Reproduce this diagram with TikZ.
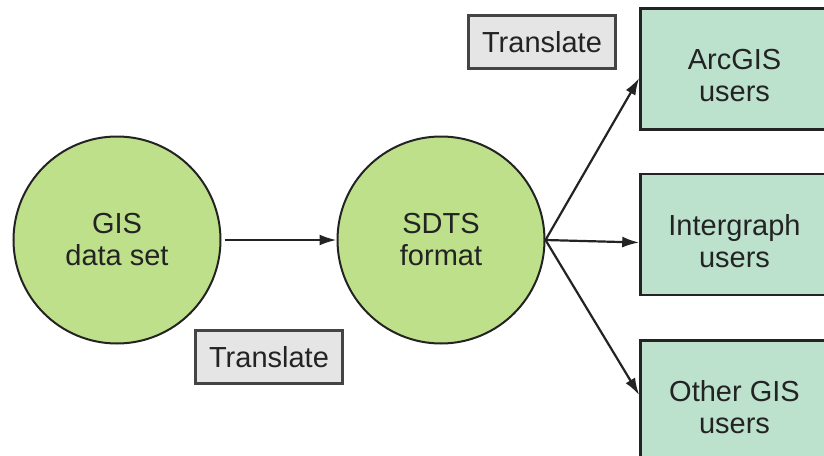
\documentclass[tikz,border=0pt]{standalone}
\usepackage{fontspec}
\setmainfont{Liberation Sans}
\usetikzlibrary{arrows.meta,positioning,shapes.geometric}
\definecolor{datagreen}{RGB}{190,224,139}
\definecolor{usergreen}{RGB}{188,226,206}
\definecolor{labelgray}{RGB}{229,229,229}
\definecolor{inkgray}{RGB}{35,35,35}
% pushes the box text a little down
\newcommand{\usersgap}{\rule{0pt}{34pt}}

\begin{document}
\begin{tikzpicture}
[x=1pt, y=-1pt, font=\fontsize{29}{32}\selectfont, text=inkgray,
% STYLES
% The data style is used to draw the data sets
data/.style={circle, draw=inkgray, line width=2pt, fill=datagreen, minimum size=207pt, inner sep=0pt, align=center},
% The users style is used to draw the receiving systems
users/.style={rectangle, draw=inkgray, line width=2.6pt, fill=usergreen, minimum width=188pt, minimum height=121pt, align=center},
% The translate style is used to draw the step labels
translate/.style={rectangle, draw=inkgray!85, line width=2.2pt, fill=labelgray, minimum width=147pt, minimum height=53pt, inner sep=0pt},
link/.style={-{Latex[length=17pt,width=11pt]}, draw=inkgray, line width=2.2pt}]
\useasboundingbox (0,0) rectangle (824,455);
% Draw data sets
\node [data] (gis) at (117,240) {GIS\\data set};
\node [data, right=115pt of gis] (sdts) {SDTS\\format};
% Draw users
\node [users] (arcgis) at (734.5,69) {\usersgap ArcGIS\\users};
\node [users] (intergraph) at (734.5,234.5) {\usersgap Intergraph\\users};
\node [users] (othergis) at (734.5,401) {\usersgap Other GIS\\users};
% Translate labels
\node [translate] (translate-low) at (269,357) {Translate};
\node [translate] (translate-high) at (542,42) {Translate};
% Draw the links
\draw [link, shorten <=3pt] (gis) -- (sdts);
\draw [link] (sdts.east) -- ([yshift=-9pt]arcgis.west);
\draw [link] (sdts.east) -- ([yshift=-8pt]intergraph.west);
\draw [link] (sdts.east) -- ([yshift=6pt]othergis.west);
\end{tikzpicture}
\end{document}
